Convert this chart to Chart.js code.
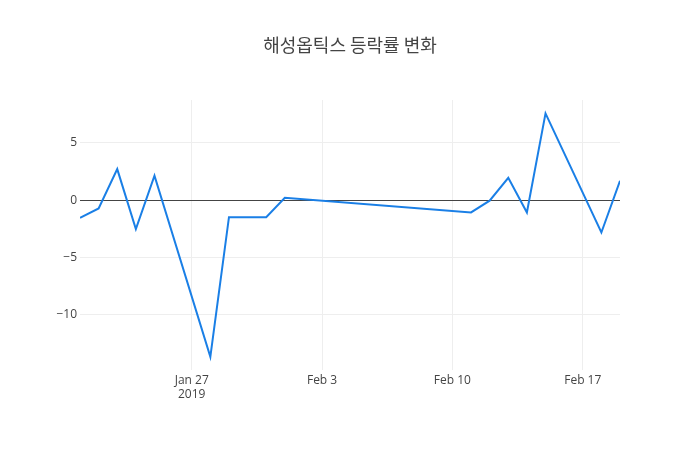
<!DOCTYPE html>
<html>
<head>
<meta charset="utf-8">
<script src="https://cdn.jsdelivr.net/npm/chart.js"></script>
<style>
	html, body { margin: 0; padding: 0; background: #fff; }
	#line-chart { display: block; }
</style>
</head>
<body>
<canvas id="line-chart" width="700" height="450"></canvas>
<script>
var titleText = '해성옵틱스 등락률 변화';

var dates = ['2019-01-21', '2019-01-22', '2019-01-23', '2019-01-24', '2019-01-25',
	'2019-01-28', '2019-01-29', '2019-01-31', '2019-02-01', '2019-02-11',
	'2019-02-12', '2019-02-13', '2019-02-14', '2019-02-15', '2019-02-18', '2019-02-19'];

var values = [-1.55, -0.73, 2.71, -2.54, 2.13,
	-13.7, -1.49, -1.49, 0.2, -1.08,
	-0.05, 1.95, -1.08, 7.58, -2.83, 1.69];

var tickDates = ['2019-01-27', '2019-02-03', '2019-02-10', '2019-02-17'];
var tickLabels = [['Jan 27', '2019'], 'Feb 3', 'Feb 10', 'Feb 17'];

var yTicks = [-10, -5, 0, 5];

var startDate = '2019-01-21';
var endDate = '2019-02-19';

function dayIndex(s){
	var p = s.split('-');
	var t = Date.UTC(+p[0], +p[1] - 1, +p[2]);
	var p0 = startDate.split('-');
	var t0 = Date.UTC(+p0[0], +p0[1] - 1, +p0[2]);
	return Math.round((t - t0) / 86400000);
}

var points = dates.map(function(d, i){
	return { x: dayIndex(d), y: values[i] };
});

var tickPos = tickDates.map(dayIndex);

new Chart(document.getElementById('line-chart'), {
	type: 'line',
	data: {
		datasets: [{
			data: points,
			borderColor: '#1a7fe6',
			borderWidth: 2,
			pointRadius: 0,
			fill: false,
			tension: 0
		}]
	},
	options: {
		responsive: false,
		animation: false,
		layout: { padding: 0 },
		plugins: {
			legend: { display: false },
			tooltip: { enabled: false },
			title: {
				display: true,
				text: titleText,
				color: '#444',
				font: { family: '"Noto Sans CJK KR", "Open Sans", sans-serif', size: 18, weight: 'normal' },
				padding: { top: 34, bottom: 44.4 }
			}
		},
		scales: {
			x: {
				type: 'linear',
				min: 0,
				max: dayIndex(endDate),
				afterBuildTicks: function(scale){
					scale.ticks = tickPos.map(function(v){ return { value: v }; });
				},
				afterFit: function(scale){ scale.height = 80; },
				ticks: {
					autoSkip: false,
					maxRotation: 0,
					padding: 3,
					color: '#444',
					font: { family: '"Open Sans", sans-serif', size: 12 },
					callback: function(v){
						var i = tickPos.indexOf(v);
						return i >= 0 ? tickLabels[i] : '';
					}
				},
				grid: { color: '#eee', lineWidth: 1, drawTicks: false },
				border: { display: false }
			},
			y: {
				type: 'linear',
				min: -14.85,
				max: 8.75,
				afterBuildTicks: function(scale){
					scale.ticks = yTicks.map(function(v){ return { value: v }; });
				},
				afterFit: function(scale){ scale.width = 80; },
				ticks: {
					padding: 3,
					color: '#444',
					font: { family: '"Open Sans", sans-serif', size: 12 },
					callback: function(v){
						return v < 0 ? '\u2212' + Math.abs(v) : '' + v;
					}
				},
				grid: {
					drawTicks: false,
					lineWidth: 1,
					color: function(ctx){
						return ctx.tick && ctx.tick.value === 0 ? '#444' : '#eee';
					}
				},
				border: { display: false }
			},
			// empty right side so the title sits over the middle of the page
			yRight: {
				type: 'linear',
				position: 'right',
				afterFit: function(scale){ scale.width = 80; },
				ticks: { display: false },
				grid: { display: false, drawTicks: false },
				border: { display: false }
			}
		}
	}
});
</script>
</body>
</html>
